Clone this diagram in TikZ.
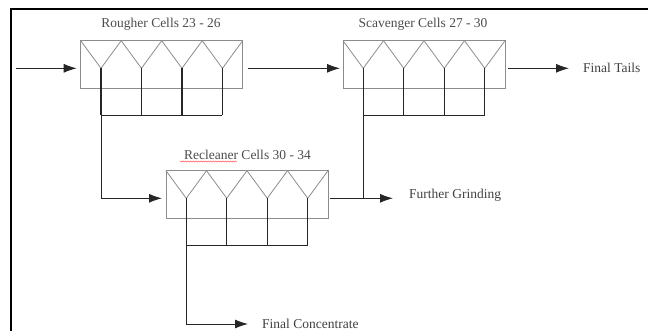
\documentclass[tikz,border=0pt]{standalone}
\usepackage{fontspec}
\setmainfont{Liberation Serif}
\usetikzlibrary{arrows.meta,decorations.pathmorphing}

\begin{document}
\begin{tikzpicture}[
    x=1pt, y=-1pt,
    cell/.style={draw=black!45, line width=0.8pt},
    stem/.style={draw=black!85, line width=1.3pt},
    flow/.style={draw=black!85, line width=0.9pt},
    arrow/.style={flow, -{Latex[length=13pt,width=9pt]}},
    tag/.style={anchor=west, inner sep=0pt, text=black!75,
        font=\fontsize{13.5}{15}\selectfont},
    title/.style={inner sep=0pt, text=black!70,
        font=\fontsize{13.5}{15}\selectfont},
    cellbank/.pic={
        \draw[cell] (0,0) rectangle (162,48);
        \foreach \k in {0,1,2,3} {
            \draw[cell] (40.5*\k,0) -- (40.5*\k+20.25,27.6) -- (40.5*\k+40.5,0);
            \draw[stem] (40.5*\k+20.25,27.6) -- (40.5*\k+20.25,74.6);
        }
        \draw[flow] (20.25,74.6) -- (141.75,74.6);
        \coordinate (-in)   at (0,27.6);
        \coordinate (-exit) at (162,27.6);
        \coordinate (-out)  at (20.25,74.6);
    }
]
  \useasboundingbox (0,0) rectangle (648,331);

  % Frame
  \draw[line width=2pt] (11,331) -- (11,9) -- (648,9);

  % Cell banks
  \pic (rough) at (80.7,40.7)  {cellbank};
  \pic (scav)  at (343,40.7)   {cellbank};
  \pic (recl)  at (166,170.7)  {cellbank};

  % Titles
  \node[title] (roughtitle) at (161,24)    {Rougher Cells 23 - 26};
  \node[title] (scavtitle)  at (423,24)    {Scavenger Cells 27 - 30};
  \node[title] (recltitle)  at (247.5,155) {Recleaner Cells 30 - 34};
  \draw[red!80, line width=0.4pt, decorate,
        decoration={snake, amplitude=0.6pt, segment length=2.5pt}]
        (180,161.5) -- (237,161.5);

  % Outlets
  \coordinate (feed) at (16,68.3);
  \node[tag] (tails) at (583,68.3)  {Final Tails};
  \node[tag] (grind) at (409,195.5) {Further Grinding};
  \node[tag] (conc)  at (262,324)   {Final Concentrate};

  % Flows
  \draw[arrow] (feed) -- ([xshift=-4pt]rough-in);
  \draw[arrow] ([xshift=5pt]rough-exit) -- ([xshift=-3pt]scav-in);
  \draw[arrow] ([xshift=3pt]scav-exit) -- ([xshift=-14pt]tails.west |- scav-exit);
  \draw[arrow] (rough-out) |- ([xshift=-4pt]recl-in);
  \draw[arrow] ([xshift=2pt]recl-exit) -- ([xshift=-16pt]grind.west |- recl-exit);
  \draw[flow] (scav-out) -- (scav-out |- recl-exit);
  \draw[arrow] (recl-out) |- ([xshift=-14pt]conc.west);
\end{tikzpicture}
\end{document}
